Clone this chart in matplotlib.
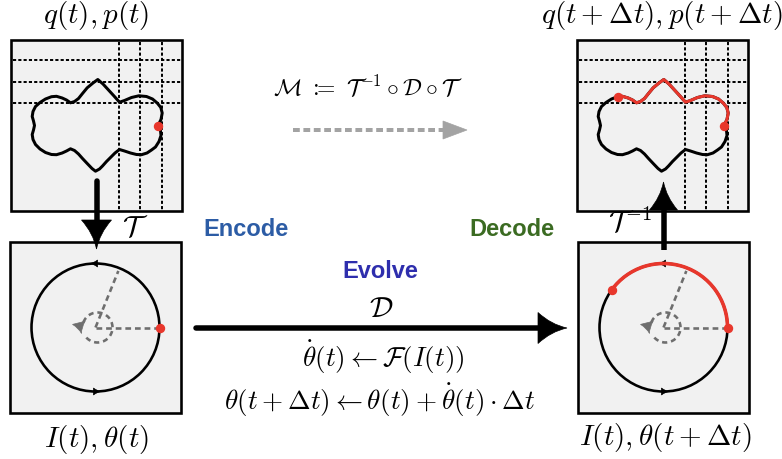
import numpy as np
import matplotlib
matplotlib.use("Agg")
import matplotlib.pyplot as plt
from matplotlib.patches import Rectangle, PathPatch, Arc, Circle
from matplotlib.path import Path

plt.rcParams['mathtext.fontset'] = 'cm'

# ---------------- data ----------------
# traced closed curve (offsets from box centre, pixels, y down)
curve_dx = [61.5, 64.5, 65.7, 64.3, 60.7, 56, 50, 42.3, 35, 28, 23, 17.5, 12, 6.5, 1.3,
            -3.5, -9.3, -14, -18, -22, -26, -30, -34.3, -40, -45, -51, -56.5, -61, -63.5,
            -64.3, -63, -62, -63, -64.3, -63.5, -61, -56.5, -51, -45, -40, -34.3, -30, -26,
            -22, -18, -14, -9.3, -4.5, -1, 3, 6, 10, 14, 18.5, 23, 28, 34, 40, 45, 50.5,
            55, 59, 62.5, 64.5, 64, 61.5]
curve_dy = [0, -6, -12.5, -18, -22.5, -26.5, -29, -29.7, -28, -25, -23.3, -29.5, -35.5, -41.5, -46,
            -42.5, -37.7, -32, -27, -24, -22.7, -25.5, -27.5, -29.2, -28.8, -26.5, -23, -19, -14,
            -9, -4.5, 0, 4.5, 9, 14, 19, 23.5, 27, 29, 29.2, 27.5, 25.5, 23.3,
            25, 28.5, 33, 38, 43, 45.7, 43.5, 40.5, 36, 32, 27.5, 24, 25.5, 27.5, 29, 29.2, 27.5,
            24.5, 21.5, 16, 10, 5, 0]
red_curve_end = 24          # index where the evolved (red) part of the curve ends
grid_h = [-65.5, -43.5, -23]  # dashed horizontal grid offsets
grid_v = [22.5, 43.5, 65.5]   # dashed vertical grid offsets
circle_r = 64
theta_start_deg = 0
theta_end_deg = 144
angle_line_deg = 68
inner_r = 15

labels_top = [r"$q(t), p(t)$", r"$q(t+\Delta t), p(t+\Delta t)$"]
labels_bottom = [r"$I(t), \theta(t)$", r"$I(t), \theta(t+\Delta t)$"]
map_label = r"$\mathcal{M}\ :\!\!\!=\ \mathcal{T}^{-1} \circ \mathcal{D} \circ \mathcal{T}$"
enc_label, dec_label, evo_label = "Encode", "Decode", "Evolve"
eq1 = r"$\dot{\theta}(t) \leftarrow \mathcal{F}(I(t))$"
eq2 = r"$\theta(t+\Delta t) \leftarrow \theta(t) + \dot{\theta}(t) \cdot \Delta t$"

RED = "#e8372c"
GRAY = "#6e6e6e"
LGRAY = "#a3a3a3"

# ---------------- figure ----------------
fig = plt.figure(figsize=(7.82, 4.59), dpi=100)
ax = fig.add_axes([0, 0, 1, 1])
ax.set_xlim(0, 782)
ax.set_ylim(459, 0)
ax.axis('off')

PX = 0.72  # points per pixel

boxes = {"tl": (11, 40), "tr": (577, 40), "bl": (10, 242), "br": (578, 242)}
BS = 171

for key, (x0, y0) in boxes.items():
    ax.add_patch(Rectangle((x0, y0), BS, BS, facecolor="#f1f1f1", edgecolor="black",
                           lw=2.6 * PX, zorder=1))


def head(tip, direction, length, hw, color="black", concave=True, z=6):
    d = np.array(direction, float)
    d /= np.linalg.norm(d)
    n = np.array([-d[1], d[0]])
    tip = np.array(tip, float)
    base = tip - d * length
    c1 = base + n * hw
    c2 = base - n * hw
    if concave:
        k1 = tip - d * length * 0.55 + n * hw * 0.22
        k2 = tip - d * length * 0.55 - n * hw * 0.22
        verts = [tip, k1, c1, c2, k2, tip, tip]
        codes = [Path.MOVETO, Path.CURVE3, Path.CURVE3, Path.LINETO,
                 Path.CURVE3, Path.CURVE3, Path.CLOSEPOLY]
    else:
        verts = [tip, c1, c2, tip]
        codes = [Path.MOVETO, Path.LINETO, Path.LINETO, Path.CLOSEPOLY]
    ax.add_patch(PathPatch(Path(verts, codes), facecolor=color, edgecolor=color, lw=0.5, zorder=z))


# ---- top boxes: grid + curve ----
cdx = np.array(curve_dx)
cdy = np.array(curve_dy)
for key in ["tl", "tr"]:
    x0, y0 = boxes[key]
    cx, cy = x0 + BS / 2, y0 + BS / 2
    for h in grid_h:
        ax.plot([x0 + 1.5, x0 + BS - 1.5], [cy + h, cy + h], color="black", lw=1.4 * PX * 1.4,
                ls=(0, (1.6, 1.1)), zorder=2)
    for v in grid_v:
        ax.plot([cx + v, cx + v], [y0 + 1.5, y0 + BS - 1.5], color="black", lw=1.4 * PX * 1.4,
                ls=(0, (1.6, 1.1)), zorder=2)
    ax.plot(cx + cdx, cy + cdy, color="black", lw=3.0 * PX, solid_joinstyle='round',
            solid_capstyle='round', zorder=3)
    if key == "tr":
        ax.plot(cx + cdx[:red_curve_end + 1], cy + cdy[:red_curve_end + 1], color=RED,
                lw=3.0 * PX, solid_joinstyle='round', solid_capstyle='round', zorder=4)
        ax.plot([cx + cdx[red_curve_end]], [cy + cdy[red_curve_end]], 'o', color=RED, ms=8 * PX, zorder=5)
    ax.plot([cx + cdx[0]], [cy + cdy[0]], 'o', color=RED, ms=8 * PX, zorder=5)

# ---- bottom boxes: circles ----
for key in ["bl", "br"]:
    x0, y0 = boxes[key]
    cx, cy = x0 + BS / 2, y0 + BS / 2
    ax.add_patch(Circle((cx, cy), circle_r, fill=False, edgecolor="black", lw=2.6 * PX, zorder=3))
    # direction arrowheads on circle
    head((cx - 5, cy - circle_r), (-1, 0), 7, 3.5, z=4)
    head((cx + 5, cy + circle_r), (1, 0), 7, 3.5, z=4)
    # dashed gray guides
    a = np.deg2rad(angle_line_deg)
    ax.plot([cx, cx + circle_r], [cy, cy], color=GRAY, lw=2.6 * PX, ls=(0, (2.2, 1.5)), zorder=3)
    ax.plot([cx, cx + (circle_r - 3) * np.cos(a)], [cy, cy - (circle_r - 3) * np.sin(a)],
            color=GRAY, lw=2.6 * PX, ls=(0, (2.2, 1.5)), zorder=3)
    ax.add_patch(Arc((cx + 2, cy), 2 * inner_r, 2 * inner_r, theta1=-160, theta2=150,
                     edgecolor=GRAY, lw=2.6 * PX, ls=(0, (2.0, 1.5)), zorder=3))
    head((cx - 14, cy + 6), (0.25, 1), 11, 6.5, color=GRAY, z=4)
    if key == "br":
        # y axis is inverted, so angles run clockwise in data space
        ax.add_patch(Arc((cx, cy), 2 * circle_r, 2 * circle_r, theta1=-theta_end_deg,
                         theta2=-theta_start_deg, edgecolor=RED, lw=3.6 * PX, zorder=5))
        e = np.deg2rad(theta_end_deg)
        ax.plot([cx + circle_r * np.cos(e)], [cy - circle_r * np.sin(e)], 'o', color=RED, ms=8 * PX, zorder=6)
    ax.plot([cx + circle_r], [cy], 'o', color=RED, ms=8 * PX, zorder=6)

# ---- arrows ----
# encode (down)
ax.plot([96.5, 96.5], [181, 225], color="black", lw=5.5 * PX, solid_capstyle='round', zorder=5)
head((96.5, 249), (0, 1), 29, 15)
# decode (up)
ax.plot([663.5, 663.5], [250, 205], color="black", lw=5.5 * PX, solid_capstyle='butt', zorder=5)
head((663.5, 182), (0, -1), 28, 14)
# evolve (right)
ax.plot([196, 542], [328, 328], color="black", lw=5.5 * PX, solid_capstyle='round', zorder=5)
head((567, 328), (1, 0), 29, 15.5)
# dashed gray map arrow
ax.plot([293, 446], [130, 130], color=LGRAY, lw=4 * PX, ls=(0, (1.7, 0.9)), zorder=5)
head((467, 130), (1, 0), 24, 9, color=LGRAY, concave=False)

# ---- text ----
fs = 21
ax.text(96.5, 15, labels_top[0], fontsize=fs, ha='center', va='center')
ax.text(662, 15, labels_top[1], fontsize=fs, ha='center', va='center')
ax.text(97, 440, labels_bottom[0], fontsize=fs, ha='center', va='center')
ax.text(665, 438, labels_bottom[1], fontsize=fs, ha='center', va='center')
ax.text(368, 87, map_label, fontsize=17, ha='center', va='center')
ax.text(135, 228, r"$\mathcal{T}$", fontsize=fs, ha='center', va='center')
ax.text(630, 222, r"$\mathcal{T}^{-1}$", fontsize=fs, ha='center', va='center')
ax.text(381, 309, r"$\mathcal{D}$", fontsize=fs, ha='center', va='center')
ax.text(383, 357, eq1, fontsize=19.5, ha='center', va='center')
ax.text(380, 400, eq2, fontsize=19.5, ha='center', va='center')

bold = dict(fontsize=17, fontweight='bold', family=['Liberation Sans', 'DejaVu Sans'],
            ha='center', va='center')
ax.text(246, 229, enc_label, color="#2c5ca5", **bold)
ax.text(512, 229, dec_label, color="#3b6b22", **bold)
ax.text(380, 272, evo_label, color="#2e2ead", **bold)

fig.savefig("out.png", dpi=100)
